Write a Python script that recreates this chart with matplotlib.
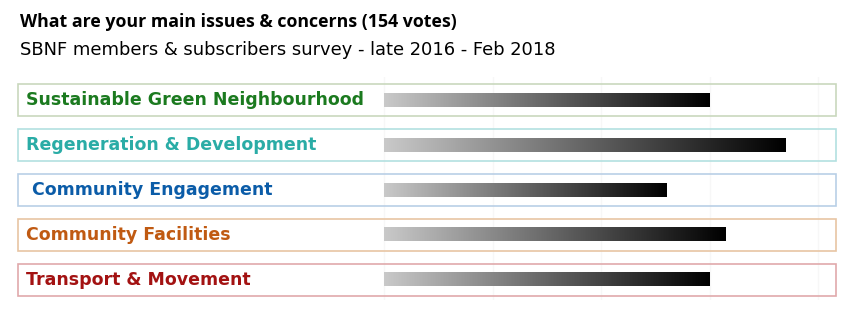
import matplotlib.pyplot as plt
import matplotlib.patches as patches
from matplotlib.colors import LinearSegmentedColormap
import numpy as np

categories = ['Sustainable Green Neighbourhood', 'Regeneration & Development',
              ' Community Engagement', 'Community Facilities', 'Transport & Movement']
values = [60, 74, 52, 63, 60]
label_colors = ['#1b7a1f', '#2aaca6', '#0b5ca8', '#c05a12', '#a31212']
box_colors = ['#c9d8bd', '#b3e0e0', '#b9cfe6', '#e8c5a3', '#e0a9ab']
grid_ticks = [0, 20, 40, 60, 80]

W, H = 858, 322
fig = plt.figure(figsize=(W / 100, H / 100), dpi=100)

# axes placed in pixel terms: x from box left to box right, 20 units = 108.5 px
px_left, px_right = 18, 836
px_zero, px_step = 384, 108.5
px_top, px_bot = 77, 300
row0, pitch = 100, 44.9

xmin = -(px_zero - px_left) / px_step * 20
xmax = (px_right - px_zero) / px_step * 20
ytop = -(row0 - px_top) / pitch
ybot = (px_bot - row0) / pitch

ax = fig.add_axes([px_left / W, 1 - px_bot / H, (px_right - px_left) / W, (px_bot - px_top) / H])

for g in grid_ticks:
    ax.axvline(g, color='#f7f7f7', lw=1, zorder=0)

cmap = LinearSegmentedColormap.from_list('bar', ['#c9c9c9', '#000000'])
grad = np.linspace(0, 1, 256).reshape(1, -1)
box_h = 0.715
bar_h = 0.30

for i, (cat, v) in enumerate(zip(categories, values)):
    ax.add_patch(patches.Rectangle((xmin, i - box_h / 2), xmax - xmin, box_h,
                                   fill=False, edgecolor=box_colors[i], lw=1.2,
                                   clip_on=False, zorder=1))
    ax.imshow(grad, cmap=cmap, aspect='auto', extent=[0, v, i + bar_h / 2, i - bar_h / 2],
              interpolation='bilinear', zorder=2)
    ax.text(xmin + (26 - px_left) / px_step * 20, i, cat, color=label_colors[i],
            fontsize=12.55, fontweight='bold', family='DejaVu Sans', va='center', ha='left')

ax.set_xlim(xmin, xmax)
ax.set_ylim(ybot, ytop)
ax.axis('off')

fig.text(20 / W, 1 - 22 / H, 'What are your main issues & concerns (154 votes)',
         fontsize=12.8, fontweight='bold', family='Open Sans', va='center', ha='left')
fig.text(20 / W, 1 - 50 / H, 'SBNF members & subscribers survey - late 2016 - Feb 2018',
         fontsize=12.85, family='DejaVu Sans', va='center', ha='left')

fig.savefig('out.png', dpi=100)
